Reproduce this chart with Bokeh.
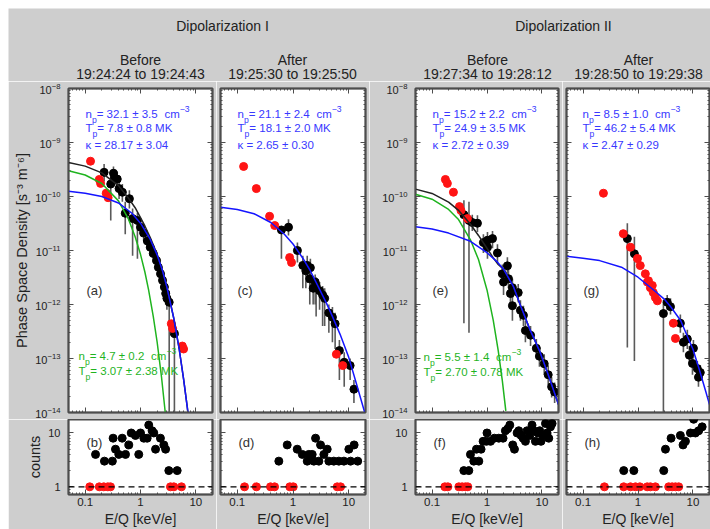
import math
from bokeh.plotting import figure
from bokeh.layouts import column, row
from bokeh.models import (Range1d, FixedTicker, LogAxis, Label, NumeralTickFormatter,
                          LogTickFormatter, Span)
from bokeh.embed import file_html
from bokeh.resources import INLINE

# ---------------- data ----------------
# Panel (a) Dipolarization I, before
a_black_E = [0.22, 0.29, 0.325, 0.34, 0.38, 0.41, 0.47, 0.53, 0.63, 0.72, 0.88, 1.0, 1.14, 1.33, 1.5, 1.7, 1.95, 2.1, 2.3, 2.5, 2.7, 2.85, 3.0, 3.3, 4.1]
a_black_f = [2.8e-10, 1.7e-10, 2.7e-10, 2.2e-10, 2.1e-10, 1.4e-10, 1.2e-10, 4.9e-11, 9.1e-11, 3.9e-11, 3.6e-11, 2.7e-11, 2.1e-11, 1.5e-11, 1.15e-11, 8.8e-12, 6.5e-12, 4.9e-12, 3.7e-12, 2.8e-12, 2.1e-12, 1.6e-12, 1.3e-12, 1.1e-12, 2.9e-13]
a_black_lo = [1.9e-10, 3.6e-11, 2.0e-10, 1.6e-10, 1.3e-10, 9e-11, 8e-11, 2e-11, 6e-11, 8e-12, 7e-12, 2e-11, 1.5e-11, 1.1e-11, 8e-12, 6e-12, 4.5e-12, 3.4e-12, 2.5e-12, 1.9e-12, 1.4e-12, 1e-12, 8e-13, 1e-14, 1e-14]
a_black_hi = [4e-10, 2.5e-10, 3.6e-10, 3e-10, 2.9e-10, 2e-10, 1.7e-10, 8e-11, 1.3e-10, 6e-11, 5e-11, 3.5e-11, 2.8e-11, 2e-11, 1.6e-11, 1.2e-11, 9e-12, 7e-12, 5.3e-12, 4e-12, 3e-12, 2.4e-12, 2e-12, 1.8e-12, 5e-13]
a_red_E = [0.125, 0.18, 0.19, 0.24, 0.26, 3.6, 3.8, 5.7, 6.0]
a_red_f = [4.5e-10, 2.07e-10, 1.75e-10, 1.15e-10, 9.5e-11, 4.4e-13, 3.6e-13, 1.7e-13, 1.5e-13]
a_blue_E = [0.05, 0.1, 0.2, 0.4, 0.7, 1.0, 1.5, 2.0, 2.5, 3.0, 4.0, 5.0, 6.0, 7.0, 7.5]
a_blue_f = [1.25e-10, 1.15e-10, 1.0e-10, 7.6e-11, 4.9e-11, 3.2e-11, 1.6e-11, 8.3e-12, 4.2e-12, 2.1e-12, 5.5e-13, 1.5e-13, 4.2e-14, 1.26e-14, 7e-15]
a_green_E = [0.05, 0.1, 0.2, 0.4, 0.6, 0.8, 1.0, 1.2, 1.4, 1.7, 2.0, 2.4, 2.8]
a_green_f = [3.0e-10, 2.5e-10, 1.74e-10, 8.3e-11, 3.9e-11, 1.8e-11, 8.5e-12, 4.0e-12, 1.86e-12, 6.0e-13, 2.0e-13, 4.5e-14, 1.0e-14]
a_total_E = [0.05, 0.1, 0.2, 0.4, 0.6, 0.8, 1.0, 1.2, 1.5, 2.0, 2.5, 3.0, 4.0, 5.0, 6.0, 7.0, 7.5]
a_total_f = [4.25e-10, 3.65e-10, 2.74e-10, 1.59e-10, 9.5e-11, 6.2e-11, 4.05e-11, 2.85e-11, 1.73e-11, 8.5e-12, 4.2e-12, 2.1e-12, 5.5e-13, 1.5e-13, 4.2e-14, 1.26e-14, 7e-15]

# Panel (c) Dipolarization I, after
c_black_E = [0.62, 0.83, 1.2, 1.5, 1.7, 1.8, 2.0, 2.05, 2.3, 2.5, 2.6, 3.0, 3.4, 3.7, 4.4, 5.1, 5.7, 6.8, 8.3, 10.6, 12.4]
c_black_f = [2.4e-11, 2.7e-11, 1.0e-11, 5.3e-12, 4.2e-12, 5.3e-12, 3.0e-12, 4.8e-12, 2.0e-12, 2.6e-12, 2.2e-12, 1.8e-12, 1.5e-12, 1.3e-12, 7e-13, 5.8e-13, 4.4e-13, 1.4e-13, 8.5e-14, 7.4e-14, 2.7e-14]
c_black_lo = [7e-12, 1.9e-11, 6e-12, 2e-12, 2e-12, 2.5e-12, 1e-12, 2e-12, 1e-12, 1e-12, 6e-13, 8e-13, 4e-13, 4e-13, 3e-13, 2e-13, 1.5e-13, 4e-14, 3e-14, 4e-14, 1.5e-14]
c_black_hi = [2.8e-11, 3.8e-11, 1.4e-11, 8e-12, 6e-12, 8e-12, 4.5e-12, 7e-12, 3e-12, 3.6e-12, 3.2e-12, 2.6e-12, 2.2e-12, 2e-12, 1e-12, 9e-13, 7e-13, 2.2e-13, 1.3e-13, 1e-13, 4e-14]
c_red_E = [0.13, 0.22, 0.38, 0.47, 0.87, 0.94, 6.0, 7.8]
c_red_f = [3.6e-10, 1.4e-10, 4.3e-11, 2.9e-11, 7.4e-12, 6e-12, 1.2e-13, 7.4e-14]
c_blue_E = [0.05, 0.1, 0.2, 0.4, 0.7, 1.0, 1.5, 2.0, 3.0, 4.0, 5.0, 7.0, 10, 14, 20]
c_blue_f = [6.3e-11, 5.75e-11, 4.8e-11, 3.3e-11, 2.0e-11, 1.32e-11, 7.2e-12, 4.4e-12, 1.9e-12, 1.05e-12, 6.3e-13, 2.8e-13, 1.05e-13, 3.2e-14, 8.9e-15]

# Panel (e) Dipolarization II, before
e_black_E = [0.38, 0.47, 0.54, 0.67, 0.86, 1.02, 1.02, 1.26, 1.55, 1.9, 2.0, 2.35, 2.46, 2.67, 2.9, 2.9, 3.7, 4.06, 4.6, 5.0, 6.2, 7.9, 9.0, 11, 13, 15, 17]
e_black_f = [4.6e-11, 3.6e-11, 3.3e-11, 3.2e-11, 1.4e-11, 1.55e-11, 1.15e-11, 1.66e-11, 9e-12, 3.7e-12, 2.6e-12, 5.2e-12, 3.0e-12, 1.6e-12, 2.05e-12, 9.5e-13, 1.66e-12, 7.8e-13, 6.3e-13, 3.3e-13, 2.7e-13, 1.55e-13, 1.1e-13, 8e-14, 5e-14, 3e-14, 2.4e-14]
e_black_lo = [4.5e-13, 3e-13, 2.3e-11, 2.2e-11, 9e-12, 1e-11, 7e-12, 1.1e-11, 6e-12, 2.2e-12, 1.5e-12, 3.5e-12, 2e-12, 1e-12, 1.3e-12, 5e-13, 1.1e-12, 5e-13, 4e-13, 2e-13, 1.7e-13, 1e-13, 7e-14, 5e-14, 3.2e-14, 1.9e-14, 1.5e-14]
e_black_hi = [8.5e-11, 8e-11, 4.6e-11, 4.5e-11, 2e-11, 2.2e-11, 1.7e-11, 2.3e-11, 1.3e-11, 5.5e-12, 4e-12, 7.5e-12, 4.4e-12, 2.4e-12, 3e-12, 1.5e-12, 2.4e-12, 1.2e-12, 9.5e-13, 5e-13, 4e-13, 2.3e-13, 1.6e-13, 1.2e-13, 7.5e-14, 4.5e-14, 3.6e-14]
e_red_E = [0.175, 0.19, 0.245, 0.315, 0.336, 0.44]
e_red_f = [2.07e-10, 1.75e-10, 1.2e-10, 6.5e-11, 5.5e-11, 3.9e-11]
e_blue_E = [0.05, 0.1, 0.2, 0.5, 1.0, 1.5, 2.0, 3.0, 4.0, 6.0, 9.0, 13, 20]
e_blue_f = [2.75e-11, 2.5e-11, 2.1e-11, 1.48e-11, 9.1e-12, 6.3e-12, 4.5e-12, 2.2e-12, 1.0e-12, 3.5e-13, 1.4e-13, 5e-14, 1.4e-14]
e_green_E = [0.05, 0.1, 0.2, 0.3, 0.5, 0.7, 1.0, 1.3, 1.6, 1.9, 2.2]
e_green_f = [1.1e-10, 8.9e-11, 5.75e-11, 3.8e-11, 1.58e-11, 6.8e-12, 1.86e-12, 5.1e-13, 1.4e-13, 3.9e-14, 1.07e-14]
e_total_E = [0.05, 0.1, 0.2, 0.3, 0.5, 0.7, 1.0, 1.3, 1.6, 2.0, 3.0, 4.0, 6.0, 9.0, 13, 20]
e_total_f = [1.37e-10, 1.14e-10, 7.85e-11, 5.6e-11, 3.06e-11, 1.9e-11, 1.1e-11, 7.3e-12, 5.5e-12, 4.5e-12, 2.2e-12, 1.0e-12, 3.5e-13, 1.4e-13, 5e-14, 1.4e-14]

# Panel (g) Dipolarization II, after
g_black_E = [0.64, 0.86, 2.9, 3.4, 3.9, 5.9, 6.7, 7.9, 8.6, 9.8, 10.2, 12, 12.6, 13.6]
g_black_f = [1.66e-11, 8.7e-12, 6.8e-13, 1.1e-12, 9.1e-13, 4.5e-13, 2e-13, 2.3e-13, 1.15e-13, 8.1e-14, 1.55e-13, 6.5e-14, 4.5e-14, 5.5e-14]
g_black_lo = [1.6e-13, 9e-14, 1e-14, 8e-13, 6.5e-13, 3e-13, 1.3e-13, 1.5e-13, 8e-14, 5e-14, 1e-13, 4.5e-14, 3e-14, 4e-14]
g_black_hi = [3.2e-11, 1.8e-11, 1.2e-12, 1.5e-12, 1.3e-12, 6.5e-13, 3e-13, 3.4e-13, 1.7e-13, 1.2e-13, 2.2e-13, 9e-14, 6e-14, 7.5e-14]
g_red_E = [0.235, 0.54, 0.73, 0.98, 1.1, 1.36, 1.48, 1.55, 1.68, 1.82, 1.9, 2.07, 2.25, 4.4, 4.8]
g_red_f = [1.15e-10, 2.05e-11, 1.15e-11, 7.1e-12, 5.25e-12, 3.7e-12, 2.6e-12, 2.75e-12, 2.05e-12, 2.25e-12, 1.66e-12, 1.35e-12, 1.17e-12, 4.5e-13, 2.35e-13]
g_blue_E = [0.05, 0.1, 0.2, 0.5, 1.0, 2.0, 3.0, 4.0, 6.0, 8.0, 10, 13, 17, 20]
g_blue_f = [7.8e-12, 7.2e-12, 6.5e-12, 4.9e-12, 3.2e-12, 1.8e-12, 1.26e-12, 8.9e-13, 5e-13, 2.5e-13, 1.48e-13, 6.3e-14, 2.5e-14, 1.4e-14]

# Counts panels (b), (d), (f), (h)
b_black_E = [0.154, 0.223, 0.31, 0.32, 0.353, 0.405, 0.467, 0.536, 0.615, 0.68, 0.81, 0.93, 1.0, 1.15, 1.32, 1.41, 1.62, 1.74, 1.87, 2.29, 2.64, 2.84, 3.25, 4.6]
b_black_n = [4, 3, 3, 8, 5, 4, 8, 4, 6, 10, 9, 4, 10, 8, 8, 14, 11, 10, 5, 8, 6, 5, 2, 2]
b_red_E = [0.121, 0.18, 0.217, 0.257, 0.287, 3.48, 4.0, 5.5]
d_black_E = [0.557, 0.787, 1.19, 1.47, 1.8, 1.92, 2.21, 2.37, 2.54, 2.91, 3.12, 3.58, 4.11, 4.4, 5.4, 6.65, 8.2, 10.05, 10.8, 12.5, 14.5]
d_black_n = [3, 6, 5, 4, 3, 4, 4, 3, 8, 3, 6, 4, 5, 3, 3, 3, 3, 5, 3, 6, 3]
d_red_E = [0.135, 0.221, 0.395, 0.467, 0.877, 1.01, 6.22, 7.13]
f_black_E = [0.379, 0.467, 0.5, 0.575, 0.71, 0.643, 0.78, 0.85, 0.975, 1.0, 1.16, 1.36, 1.64, 1.96, 2.16, 2.39, 2.6, 2.94, 3.16, 3.53, 3.78, 4.17, 4.54, 5.0, 5.36, 6.0, 6.6, 7.1, 7.6, 8.4, 9.1, 9.6, 10.5, 11.6, 12.4, 13.3, 14.3, 15.3]
f_black_n = [2, 2, 4, 3, 3, 5, 5, 7, 7, 10, 7, 8, 8, 8, 11, 12, 14, 6, 5, 10, 11, 9, 8, 7, 11, 9, 14, 11, 7, 10, 11, 7, 9, 15, 10, 8, 13, 15]
f_red_E = [0.171, 0.194, 0.307, 0.353, 0.405, 0.447]
h_black_E = [0.55, 0.84, 2.94, 3.16, 4.0, 5.9, 6.6, 7.3, 9.0, 10.3, 11.1, 12.7, 14.7]
h_black_n = [2, 2, 2, 5, 8, 9, 6, 7, 10, 18, 10, 11, 13]
h_red_E = [0.245, 0.55, 0.73, 0.9, 1.08, 1.47, 1.68, 2.07, 3.62, 4.18, 4.8, 5.5]

# fit-parameter texts
a_blue_txt = ("32.1 ± 3.5", "7.8 ± 0.8", "28.17 ± 3.04")
c_blue_txt = ("21.1 ± 2.4", "18.1 ± 2.0", "2.65 ± 0.30")
e_blue_txt = ("15.2 ± 2.2", "24.9 ± 3.5", "2.72 ± 0.39")
g_blue_txt = ("8.5 ± 1.0", "46.2 ± 5.4", "2.47 ± 0.29")
a_green_txt = ("4.7 ± 0.2", "3.07 ± 2.38")
e_green_txt = ("5.5 ± 1.4", "2.70 ± 0.78")

# ---------------- styling ----------------
FONT = "Liberation Sans"
BG = "#cecece"
FRAME = "#4d4d4d"
BLUE = "#1414ff"
TBLUE = "#3838ff"
GREEN = "#1fb41f"
RED = "#ff1414"
ERR = "#5a5a5a"
X0 = 0.05

X_TICKS = [0.1, 1, 10]
X_MINOR = [m * 10.0 ** e for e in (-2, -1, 0, 1) for m in range(2, 10)]
PSD_TICKS = [10.0 ** e for e in range(-14, -7)]
PSD_MINOR = [m * 10.0 ** e for e in range(-14, -8) for m in range(2, 10)]
CNT_TICKS = [1, 10]
CNT_MINOR = [0.8, 0.9] + list(range(2, 10))

CW = {' ': 0.278, '.': 0.278, '=': 0.584, '±': 0.584, 'c': 0.5, 'm': 0.833, 'n': 0.556,
      'p': 0.556, 'T': 0.611, 'M': 0.833, 'K': 0.667, 'κ': 0.52, '−': 0.584}


def tw(s, fs):
    return sum(CW.get(ch, 0.556) for ch in s) * fs


def style_axis(ax, labels, fs="11px", standoff=4):
    ax.axis_line_color = FRAME
    ax.axis_line_width = 1.5
    ax.major_tick_line_color = FRAME
    ax.minor_tick_line_color = FRAME
    ax.major_tick_line_width = 1
    ax.major_tick_in = 5
    ax.major_tick_out = 0
    ax.minor_tick_in = 2
    ax.minor_tick_out = 0
    ax.major_label_text_font = FONT
    ax.major_label_text_color = "#222222"
    ax.axis_label_text_font = FONT
    ax.axis_label_text_font_style = "normal"
    ax.axis_label_text_color = "#222222"
    if labels:
        ax.major_label_text_font_size = fs
        ax.major_label_standoff = standoff
    else:
        ax.formatter = NumeralTickFormatter(format="0")
        ax.major_label_text_font_size = "1px"
        ax.major_label_text_alpha = 0
        ax.major_label_standoff = 0


def make_fig(width, height, bl, br, bt, bb, x_end, yr, yt, ym, ylabels, xlabels, yfmt,
             ylabel=None, xlabel=None, top_axis=True):
    p = figure(width=width, height=height, x_axis_type="log", y_axis_type="log",
               x_range=Range1d(X0, x_end), y_range=Range1d(*yr),
               x_axis_location=None, y_axis_location=None,
               output_backend="svg", toolbar_location=None,
               min_border_left=bl, min_border_right=br, min_border_top=bt, min_border_bottom=bb)
    p.background_fill_color = "white"
    p.border_fill_color = BG
    p.outline_line_color = FRAME
    p.outline_line_width = 2
    p.grid.visible = False
    xt = FixedTicker(ticks=X_TICKS, minor_ticks=X_MINOR)
    ytk = FixedTicker(ticks=yt, minor_ticks=ym)
    xb = LogAxis(ticker=xt, formatter=NumeralTickFormatter(format="0.[0]"))
    style_axis(xb, xlabels, "11.5px", 3)
    if xlabel:
        xb.axis_label = xlabel
        xb.axis_label_text_font_size = "14px"
        xb.axis_label_standoff = 2
    p.add_layout(xb, "below")
    if top_axis:
        xa = LogAxis(ticker=xt)
        style_axis(xa, False)
        p.add_layout(xa, "above")
    yl = LogAxis(ticker=ytk, formatter=yfmt)
    style_axis(yl, ylabels, "11px", 8)
    if ylabel:
        yl.axis_label = ylabel
        yl.axis_label_text_font_size = "14.5px"
        yl.axis_label_standoff = 2
    p.add_layout(yl, "left")
    yr_ax = LogAxis(ticker=ytk)
    style_axis(yr_ax, False)
    p.add_layout(yr_ax, "right")
    return p


# vertical geometry (page pixels): header 8..81, PSD row 81..419, counts row 419..529
HDR_H, TOP_H, BOT_H = 73, 338, 110
FRAME_TOP, PSD_PPD = 88.0, 324.0 / 6.0
CNT_YR = (0.72, 17.8)
CNT_TOP = 419.0
CNT_LOG_TOP = math.log10(CNT_YR[1])
CNT_PPD = 78.0 / math.log10(CNT_YR[1] / CNT_YR[0])


def conv_psd(fl, ppd):
    def f(px, py):
        return X0 * 10 ** ((px - fl) / ppd), 10 ** (-8 - (py - FRAME_TOP) / PSD_PPD)
    return f


def conv_cnt(fl, ppd):
    def f(px, py):
        return X0 * 10 ** ((px - fl) / ppd), 10 ** (CNT_LOG_TOP - (py - CNT_TOP) / CNT_PPD)
    return f


def rich(p, conv, px, py, parts, color, fs):
    x = px
    for txt, kind in parts:
        if kind == "gap":
            x += tw(txt, fs)
            continue
        size = fs if kind == "n" else fs * 0.75
        dy = 0 if kind == "n" else (6 if kind == "sub" else -5)
        dx_, dy_ = conv(x, py + dy)
        p.add_layout(Label(x=dx_, y=dy_, text=txt, text_font=FONT, text_font_size=f"{size:.1f}px",
                           text_color=color, text_baseline="middle", text_align="left"))
        x += tw(txt, size)


def fit_text(p, conv, px, py0, vals, color, fs=11.5, kappa=True, dy=(0, 14, 31)):
    rich(p, conv, px, py0 + dy[0], [("n", "n"), ("p", "sub"), (" = " + vals[0], "n"), (" ", "gap"),
                                     ("cm", "n"), ("−3", "sup")], color, fs)
    rich(p, conv, px, py0 + dy[1], [("T", "n"), ("p", "sub"), (" = " + vals[1] + " MK", "n")], color, fs)
    if kappa:
        rich(p, conv, px, py0 + dy[2], [("κ = " + vals[2], "n")], color, fs)


def psd_panel(p, bE, bf, blo, bhi, rE, rf, curves):
    p.segment(x0=bE, y0=blo, x1=bE, y1=bhi, line_color=ERR, line_width=1.6)
    p.scatter(bE, bf, size=8, fill_color="black", line_color="black")
    p.scatter(rE, rf, size=8, fill_color=RED, line_color=RED)
    for E, f, col in curves:
        p.line(E, f, line_color=col, line_width=1.5)


def cnt_panel(p, bE, bn, rE):
    p.add_layout(Span(location=1, dimension="width", line_color="black", line_dash="6 4", line_width=1.2))
    p.scatter(bE, bn, size=8, fill_color="black", line_color="black")
    p.scatter(rE, [1] * len(rE), size=8, fill_color=RED, line_color=RED)


def letter(p, conv, px, py, t):
    x, y = conv(px, py)
    p.add_layout(Label(x=x, y=y, text=t, text_font=FONT, text_font_size="13px", text_color="#333333",
                       text_baseline="middle", text_align="left"))


# geometry: (fig width, border left, border right, frame left (page px), x end)
COLS = {
    "a": (208, 60, 4, 68.0, 20.0),
    "c": (153, 4, 4, 220.0, 20.0),
    "e": (193, 46, 4, 415.0, 20.0),
    "g": (148, 4, 1, 566.0, 20.0),
}

figs_top, figs_bot = {}, {}
for key, bkey in (("a", "b"), ("c", "d"), ("e", "f"), ("g", "h")):
    w, bl, br, fl, xe = COLS[key]
    ppd = (w - bl - br) / math.log10(xe / X0)
    show_y = key in ("a", "e")
    pt = make_fig(w, TOP_H, bl, br, 7, 7, xe, (1e-14, 1e-8), PSD_TICKS, PSD_MINOR, show_y, False,
                  LogTickFormatter(), ylabel="Phase Space Density [s⁻³ m⁻⁶]" if key == "a" else None)
    pb = make_fig(w, BOT_H, bl, br, 0, 32, xe, CNT_YR, CNT_TICKS, CNT_MINOR, show_y, True,
                  NumeralTickFormatter(format="0"), ylabel="counts" if key == "a" else None,
                  xlabel="E/Q [keV/e]", top_axis=False)
    figs_top[key] = (pt, conv_psd(fl, ppd), fl)
    figs_bot[bkey] = (pb, conv_cnt(fl, ppd), fl)

# top panels
pa, ca, fla = figs_top["a"]
psd_panel(pa, a_black_E, a_black_f, a_black_lo, a_black_hi, a_red_E, a_red_f,
          [(a_total_E, a_total_f, "#222222"), (a_green_E, a_green_f, GREEN), (a_blue_E, a_blue_f, BLUE)])
fit_text(pa, ca, fla + 17, 113, a_blue_txt, TBLUE)
fit_text(pa, ca, fla + 10, 355, a_green_txt, GREEN, kappa=False, dy=(0, 15, 0))
letter(pa, ca, fla + 18, 290, "(a)")

pc, cc, flc = figs_top["c"]
psd_panel(pc, c_black_E, c_black_f, c_black_lo, c_black_hi, c_red_E, c_red_f,
          [(c_blue_E, c_blue_f, BLUE)])
fit_text(pc, cc, flc + 17, 113, c_blue_txt, TBLUE)
letter(pc, cc, flc + 17, 290, "(c)")

pe, ce, fle = figs_top["e"]
psd_panel(pe, e_black_E, e_black_f, e_black_lo, e_black_hi, e_red_E, e_red_f,
          [(e_total_E, e_total_f, "#222222"), (e_green_E, e_green_f, GREEN), (e_blue_E, e_blue_f, BLUE)])
fit_text(pe, ce, fle + 17, 113, e_blue_txt, TBLUE)
fit_text(pe, ce, fle + 8, 356, e_green_txt, GREEN, kappa=False, dy=(0, 15, 0))
letter(pe, ce, fle + 17, 290, "(e)")

pg, cg, flg = figs_top["g"]
psd_panel(pg, g_black_E, g_black_f, g_black_lo, g_black_hi, g_red_E, g_red_f,
          [(g_blue_E, g_blue_f, BLUE)])
fit_text(pg, cg, flg + 16, 113, g_blue_txt, TBLUE)
letter(pg, cg, flg + 17, 290, "(g)")

# bottom panels
for bkey, bE, bn, rE in (("b", b_black_E, b_black_n, b_red_E), ("d", d_black_E, d_black_n, d_red_E),
                         ("f", f_black_E, f_black_n, f_red_E), ("h", h_black_E, h_black_n, h_red_E)):
    pb, cb, flb = figs_bot[bkey]
    cnt_panel(pb, bE, bn, rE)
    letter(pb, cb, flb + 18, 443, "(" + bkey + ")")

# header (data units = page pixels)
hdr = figure(width=702, height=HDR_H, x_range=Range1d(8, 710), y_range=Range1d(8 + HDR_H, 8),
             x_axis_location=None, y_axis_location=None, output_backend="svg",
             toolbar_location=None, min_border=0)
hdr.outline_line_color = None
hdr.background_fill_color = BG
hdr.border_fill_color = BG
hdr.grid.visible = False
for txt, x, y in (("Dipolarization I", 222, 25), ("Dipolarization II", 563, 25),
                  ("Before", 140, 59), ("19:24:24 to 19:24:43", 140, 73),
                  ("After", 292, 59), ("19:25:30 to 19:25:50", 292, 73),
                  ("Before", 487, 59), ("19:27:34 to 19:28:12", 487, 73),
                  ("After", 638, 59), ("19:28:50 to 19:29:38", 638, 73)):
    hdr.add_layout(Label(x=x, y=y, text=txt, text_font=FONT, text_font_size="14px",
                         text_color="#222222", text_align="center", text_baseline="middle"))

layout = column(hdr,
                row(figs_top["a"][0], figs_top["c"][0], figs_top["e"][0], figs_top["g"][0]),
                row(figs_bot["b"][0], figs_bot["d"][0], figs_bot["f"][0], figs_bot["h"][0]),
                margin=(8, 0, 0, 8))

open("out.html", "w").write(file_html(layout, INLINE))
